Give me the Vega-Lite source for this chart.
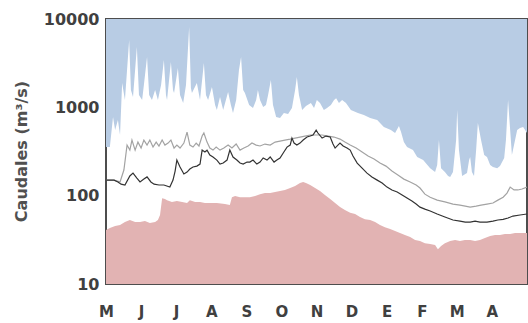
{
  "$schema": "https://vega.github.io/schema/vega-lite/v6.json",
  "width": 421,
  "height": 265,
  "autosize": {"type": "none"},
  "padding": {"left": 106, "top": 19, "right": 1, "bottom": 39},
  "background": "#ffffff",
  "config": {
    "view": {"stroke": "#4d4d4d", "strokeWidth": 2},
    "font": "DejaVu Sans"
  },
  "datasets": {
    "upper": [
      {"t":0,"q":355},{"t":0.11,"q":355},{"t":0.2,"q":776},{"t":0.26,"q":553},{"t":0.34,"q":718},{"t":0.4,"q":486},{"t":0.46,"q":1880},{"t":0.54,"q":1210},{"t":0.66,"q":5780},{"t":0.71,"q":1570},{"t":0.77,"q":1310},{"t":0.88,"q":4820},{"t":0.94,"q":1380},{"t":1.03,"q":1210},{"t":1.08,"q":1790},{"t":1.17,"q":3710},{"t":1.23,"q":1380},{"t":1.31,"q":1210},{"t":1.4,"q":1570},{"t":1.48,"q":1210},{"t":1.57,"q":1790},{"t":1.65,"q":3430},{"t":1.71,"q":1380},{"t":1.74,"q":1210},{"t":1.85,"q":3260},{"t":1.91,"q":1570},{"t":1.94,"q":1450},{"t":2.05,"q":2790},{"t":2.11,"q":1380},{"t":2.2,"q":1120},{"t":2.28,"q":1790},{"t":2.37,"q":8120},{"t":2.42,"q":1660},{"t":2.45,"q":1450},{"t":2.59,"q":1880},{"t":2.68,"q":1210},{"t":2.79,"q":3170},{"t":2.85,"q":1380},{"t":2.91,"q":1210},{"t":3.02,"q":1700},{"t":3.11,"q":1060},{"t":3.16,"q":930},{"t":3.25,"q":1310},{"t":3.34,"q":930},{"t":3.48,"q":1490},{"t":3.56,"q":1060},{"t":3.62,"q":862},{"t":3.71,"q":1210},{"t":3.79,"q":2640},{"t":3.85,"q":3710},{"t":3.91,"q":1570},{"t":3.96,"q":1450},{"t":4.08,"q":1060},{"t":4.19,"q":982},{"t":4.28,"q":1210},{"t":4.33,"q":1570},{"t":4.39,"q":1210},{"t":4.48,"q":1010},{"t":4.56,"q":1060},{"t":4.62,"q":1380},{"t":4.7,"q":2040},{"t":4.76,"q":1060},{"t":4.85,"q":776},{"t":4.96,"q":757},{"t":5.07,"q":862},{"t":5.19,"q":840},{"t":5.3,"q":982},{"t":5.39,"q":1570},{"t":5.44,"q":2200},{"t":5.5,"q":1380},{"t":5.59,"q":930},{"t":5.7,"q":1035},{"t":5.84,"q":1120},{"t":5.93,"q":982},{"t":6.01,"q":1210},{"t":6.1,"q":1120},{"t":6.21,"q":930},{"t":6.3,"q":982},{"t":6.41,"q":1060},{"t":6.5,"q":1210},{"t":6.56,"q":1270},{"t":6.64,"q":1120},{"t":6.73,"q":1210},{"t":6.84,"q":1120},{"t":6.98,"q":930},{"t":7.18,"q":862},{"t":7.35,"q":818},{"t":7.53,"q":757},{"t":7.73,"q":718},{"t":7.92,"q":598},{"t":8.12,"q":553},{"t":8.24,"q":512},{"t":8.35,"q":614},{"t":8.41,"q":525},{"t":8.49,"q":404},{"t":8.58,"q":355},{"t":8.75,"q":328},{"t":8.87,"q":274},{"t":9.04,"q":253},{"t":9.24,"q":205},{"t":9.38,"q":185},{"t":9.44,"q":222},{"t":9.49,"q":426},{"t":9.55,"q":205},{"t":9.66,"q":185},{"t":9.75,"q":167},{"t":9.81,"q":163},{"t":9.89,"q":185},{"t":9.98,"q":426},{"t":10.01,"q":930},{"t":10.06,"q":328},{"t":10.15,"q":167},{"t":10.29,"q":180},{"t":10.35,"q":253},{"t":10.38,"q":274},{"t":10.43,"q":185},{"t":10.49,"q":167},{"t":10.55,"q":328},{"t":10.6,"q":664},{"t":10.69,"q":426},{"t":10.78,"q":288},{"t":10.86,"q":274},{"t":10.95,"q":222},{"t":11.03,"q":211},{"t":11.15,"q":205},{"t":11.23,"q":216},{"t":11.35,"q":267},{"t":11.4,"q":426},{"t":11.46,"q":1210},{"t":11.52,"q":553},{"t":11.57,"q":288},{"t":11.66,"q":426},{"t":11.72,"q":553},{"t":11.8,"q":583},{"t":11.89,"q":598},{"t":12,"q":512}
    ],
    "lower": [
      {"t":0,"q":40.8},{"t":0.11,"q":43},{"t":0.26,"q":45.3},{"t":0.4,"q":46.4},{"t":0.54,"q":50.2},{"t":0.68,"q":53},{"t":0.83,"q":50.2},{"t":0.97,"q":50.2},{"t":1.11,"q":51.6},{"t":1.25,"q":48.9},{"t":1.4,"q":50.2},{"t":1.48,"q":53},{"t":1.54,"q":60.4},{"t":1.6,"q":93.5},{"t":1.68,"q":91.5},{"t":1.74,"q":89},{"t":1.88,"q":84.9},{"t":2.02,"q":86.9},{"t":2.17,"q":84.9},{"t":2.31,"q":82.5},{"t":2.39,"q":89},{"t":2.54,"q":84.9},{"t":2.68,"q":84.9},{"t":2.82,"q":82.5},{"t":2.96,"q":82.5},{"t":3.16,"q":82.5},{"t":3.39,"q":80.4},{"t":3.53,"q":78.3},{"t":3.59,"q":96},{"t":3.68,"q":99},{"t":3.82,"q":96},{"t":3.96,"q":96},{"t":4.1,"q":96},{"t":4.25,"q":99},{"t":4.39,"q":104},{"t":4.53,"q":107},{"t":4.68,"q":107},{"t":4.82,"q":110},{"t":4.96,"q":113},{"t":5.1,"q":116},{"t":5.25,"q":122},{"t":5.39,"q":128.5},{"t":5.53,"q":139},{"t":5.62,"q":143},{"t":5.7,"q":139},{"t":5.82,"q":132},{"t":5.96,"q":122},{"t":6.1,"q":113},{"t":6.24,"q":102},{"t":6.39,"q":91.5},{"t":6.53,"q":82.5},{"t":6.67,"q":74.2},{"t":6.81,"q":68.8},{"t":6.96,"q":64},{"t":7.1,"q":62},{"t":7.24,"q":57.3},{"t":7.38,"q":54},{"t":7.53,"q":53},{"t":7.67,"q":50.2},{"t":7.81,"q":46.4},{"t":7.95,"q":44},{"t":8.1,"q":41.9},{"t":8.24,"q":39.7},{"t":8.38,"q":37.7},{"t":8.52,"q":35.8},{"t":8.67,"q":34},{"t":8.81,"q":31.4},{"t":8.95,"q":30.6},{"t":9.09,"q":29},{"t":9.24,"q":28.3},{"t":9.38,"q":27.6},{"t":9.46,"q":24.8},{"t":9.55,"q":26.9},{"t":9.66,"q":29},{"t":9.81,"q":30.6},{"t":9.95,"q":31.4},{"t":10.09,"q":30.6},{"t":10.23,"q":31.4},{"t":10.38,"q":31.4},{"t":10.52,"q":30.6},{"t":10.66,"q":31.4},{"t":10.8,"q":33.1},{"t":10.95,"q":34.9},{"t":11.09,"q":35.8},{"t":11.23,"q":35.8},{"t":11.37,"q":36.7},{"t":11.52,"q":36.7},{"t":11.66,"q":37.7},{"t":11.8,"q":37.7},{"t":12,"q":37.7}
    ],
    "dark": [
      {"t":0,"q":150},{"t":0.23,"q":150},{"t":0.34,"q":143},{"t":0.43,"q":135},{"t":0.54,"q":132},{"t":0.68,"q":167},{"t":0.77,"q":180},{"t":0.88,"q":158},{"t":0.97,"q":143},{"t":1.08,"q":154},{"t":1.17,"q":163},{"t":1.28,"q":143},{"t":1.37,"q":135},{"t":1.51,"q":132},{"t":1.65,"q":132},{"t":1.82,"q":125},{"t":1.91,"q":150},{"t":1.97,"q":190},{"t":2.02,"q":253},{"t":2.11,"q":211},{"t":2.22,"q":176},{"t":2.31,"q":185},{"t":2.39,"q":200},{"t":2.48,"q":211},{"t":2.59,"q":216},{"t":2.68,"q":228},{"t":2.74,"q":328},{"t":2.82,"q":312},{"t":2.88,"q":328},{"t":2.96,"q":288},{"t":3.05,"q":274},{"t":3.16,"q":253},{"t":3.25,"q":228},{"t":3.34,"q":234},{"t":3.45,"q":253},{"t":3.53,"q":328},{"t":3.62,"q":274},{"t":3.73,"q":253},{"t":3.82,"q":234},{"t":3.91,"q":228},{"t":4.02,"q":240},{"t":4.1,"q":240},{"t":4.19,"q":253},{"t":4.3,"q":228},{"t":4.39,"q":240},{"t":4.48,"q":267},{"t":4.59,"q":253},{"t":4.68,"q":274},{"t":4.79,"q":240},{"t":4.87,"q":253},{"t":4.96,"q":267},{"t":5.07,"q":312},{"t":5.16,"q":355},{"t":5.25,"q":374},{"t":5.3,"q":449},{"t":5.36,"q":394},{"t":5.44,"q":374},{"t":5.53,"q":394},{"t":5.62,"q":426},{"t":5.73,"q":461},{"t":5.82,"q":473},{"t":5.9,"q":486},{"t":5.99,"q":553},{"t":6.04,"q":512},{"t":6.16,"q":449},{"t":6.27,"q":473},{"t":6.39,"q":461},{"t":6.47,"q":384},{"t":6.53,"q":346},{"t":6.61,"q":374},{"t":6.67,"q":394},{"t":6.76,"q":365},{"t":6.87,"q":346},{"t":6.96,"q":328},{"t":7.04,"q":281},{"t":7.16,"q":234},{"t":7.3,"q":205},{"t":7.44,"q":180},{"t":7.58,"q":163},{"t":7.73,"q":150},{"t":7.87,"q":139},{"t":8.01,"q":125},{"t":8.15,"q":116},{"t":8.3,"q":110},{"t":8.44,"q":102},{"t":8.58,"q":94},{"t":8.72,"q":86.9},{"t":8.84,"q":80.4},{"t":8.95,"q":74.2},{"t":9.09,"q":70.5},{"t":9.24,"q":67},{"t":9.44,"q":62},{"t":9.66,"q":57.3},{"t":9.89,"q":53},{"t":10.09,"q":51.6},{"t":10.24,"q":50.2},{"t":10.38,"q":50.2},{"t":10.52,"q":51.6},{"t":10.66,"q":50.2},{"t":10.86,"q":50.2},{"t":11.03,"q":51.6},{"t":11.17,"q":53},{"t":11.32,"q":54},{"t":11.46,"q":55.8},{"t":11.6,"q":58.8},{"t":11.8,"q":60.4},{"t":12,"q":62}
    ],
    "gray": [
      {"t":0,"q":150},{"t":0.23,"q":150},{"t":0.4,"q":143},{"t":0.51,"q":195},{"t":0.6,"q":374},{"t":0.68,"q":328},{"t":0.74,"q":426},{"t":0.83,"q":328},{"t":0.91,"q":404},{"t":1,"q":346},{"t":1.08,"q":426},{"t":1.17,"q":374},{"t":1.25,"q":426},{"t":1.34,"q":355},{"t":1.43,"q":404},{"t":1.51,"q":365},{"t":1.6,"q":426},{"t":1.68,"q":374},{"t":1.77,"q":394},{"t":1.85,"q":426},{"t":1.94,"q":346},{"t":2.02,"q":374},{"t":2.11,"q":346},{"t":2.22,"q":394},{"t":2.31,"q":525},{"t":2.39,"q":374},{"t":2.48,"q":355},{"t":2.57,"q":394},{"t":2.65,"q":365},{"t":2.74,"q":473},{"t":2.79,"q":512},{"t":2.88,"q":404},{"t":2.96,"q":346},{"t":3.05,"q":328},{"t":3.14,"q":355},{"t":3.25,"q":328},{"t":3.36,"q":346},{"t":3.48,"q":374},{"t":3.59,"q":346},{"t":3.71,"q":384},{"t":3.82,"q":328},{"t":3.93,"q":346},{"t":4.05,"q":365},{"t":4.16,"q":394},{"t":4.28,"q":374},{"t":4.39,"q":365},{"t":4.53,"q":384},{"t":4.68,"q":374},{"t":4.82,"q":404},{"t":4.96,"q":415},{"t":5.1,"q":426},{"t":5.25,"q":437},{"t":5.39,"q":449},{"t":5.53,"q":461},{"t":5.67,"q":473},{"t":5.82,"q":486},{"t":5.99,"q":486},{"t":6.16,"q":486},{"t":6.33,"q":473},{"t":6.5,"q":461},{"t":6.67,"q":437},{"t":6.81,"q":404},{"t":6.96,"q":374},{"t":7.13,"q":346},{"t":7.3,"q":312},{"t":7.47,"q":281},{"t":7.64,"q":260},{"t":7.81,"q":234},{"t":7.98,"q":216},{"t":8.15,"q":190},{"t":8.32,"q":171},{"t":8.49,"q":154},{"t":8.67,"q":143},{"t":8.84,"q":132},{"t":8.95,"q":122},{"t":9.09,"q":104},{"t":9.24,"q":96},{"t":9.44,"q":89},{"t":9.66,"q":84.9},{"t":9.89,"q":80.4},{"t":10.09,"q":78.3},{"t":10.24,"q":76.2},{"t":10.38,"q":74.2},{"t":10.55,"q":76.2},{"t":10.69,"q":78.3},{"t":10.86,"q":80.4},{"t":11.03,"q":82.5},{"t":11.17,"q":89},{"t":11.32,"q":96},{"t":11.43,"q":107},{"t":11.52,"q":125},{"t":11.63,"q":116},{"t":11.74,"q":116},{"t":11.86,"q":119},{"t":12,"q":125}
    ]
  },
  "encoding": {
    "x": {
      "field": "t", "type": "quantitative",
      "scale": {"domain": [0, 12], "nice": false, "zero": false},
      "axis": {
        "values": [0,1,2,3,4,5,6,7,8,9,10,11],
        "labelExpr": "['M','J','J','A','S','O','N','D','E','F','M','A'][datum.value]",
        "grid": false, "ticks": false, "domain": false, "title": null,
        "labelFont": "DejaVu Sans", "labelFontSize": 15, "labelFontWeight": "bold",
        "labelColor": "#404040", "labelPadding": 20, "labelFlush": false, "labelOverlap": false,
        "labelSeparation": 0, "labelBound": false
      }
    },
    "y": {
      "field": "q", "type": "quantitative",
      "scale": {"type": "log", "domain": [10, 10000], "nice": false},
      "axis": {
        "values": [10, 100, 1000, 10000],
        "format": "d",
        "grid": false, "ticks": false, "domain": false,
        "labelFont": "DejaVu Sans", "labelFontSize": 16, "labelFontWeight": "bold",
        "labelColor": "#404040", "labelPadding": 7, "labelFlush": false, "labelOverlap": false,
        "title": "Caudales (m³/s)",
        "titleFont": "DejaVu Sans", "titleFontSize": 16, "titleFontWeight": "bold",
        "titleColor": "#505050", "titleX": -85, "titleY": 132, "titleAngle": -90,
        "titleAlign": "center", "titleBaseline": "middle"
      }
    }
  },
  "layer": [
    {
      "data": {"name": "upper"},
      "mark": {"type": "area", "color": "#b8cce4", "clip": true},
      "encoding": {"y2": {"datum": 10000}}
    },
    {
      "data": {"name": "lower"},
      "mark": {"type": "area", "color": "#e2b3b3", "clip": true},
      "encoding": {"y2": {"datum": 10}}
    },
    {
      "data": {"name": "gray"},
      "mark": {"type": "line", "color": "#a3a3a3", "strokeWidth": 1.2, "clip": true},
      "encoding": {}
    },
    {
      "data": {"name": "dark"},
      "mark": {"type": "line", "color": "#333333", "strokeWidth": 1.2, "clip": true},
      "encoding": {}
    }
  ]
}
